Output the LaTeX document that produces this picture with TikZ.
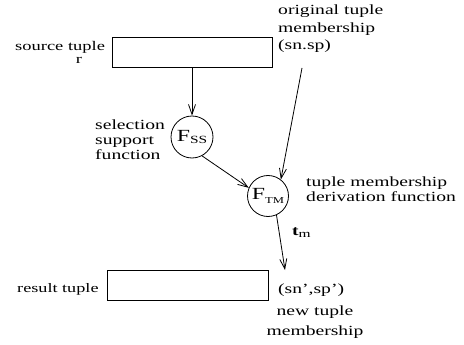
\documentclass[tikz,border=0pt]{standalone}
\usepackage{fontspec}
\setmainfont[FakeStretch=1.4]{Liberation Serif}
\usetikzlibrary{arrows.meta}
\begin{document}
\begin{tikzpicture}[x=1pt,y=-1pt,
  box/.style={draw,line width=0.9pt,inner sep=0pt},
  fcircle/.style={draw,circle,line width=0.8pt,inner sep=0pt,minimum size=42pt},
  conn/.style={line width=0.8pt,-{Straight Barb[length=10pt,width=7pt,line width=0.8pt]}},
  lbl/.style={inner sep=0pt,font=\fontsize{14}{15}\selectfont},
  smalllbl/.style={inner sep=0pt,font=\fontsize{13}{14}\selectfont}
]
\useasboundingbox (0,0) rectangle (464,345);
% boxes
\node[box,minimum width=160pt,minimum height=30pt] (src) at (192,52) {};
\node[box,minimum width=161pt,minimum height=30pt] (res) at (187.5,285) {};
% circles
\node[fcircle] (Fss) at (192,137) {\fontsize{17}{17}\selectfont F\raisebox{-0.35ex}{\fontsize{11}{11}\selectfont SS}};
\node[fcircle,minimum size=41pt] (Ftm) at (268,196) {\fontsize{17}{17}\selectfont F\raisebox{-0.45ex}{\fontsize{9}{9}\selectfont TM}};
% labels (multi-line nodes: base = last line)
\node[smalllbl,anchor=base west,font=\fontsize{13.2}{14}\selectfont] (srclbl) at (15,51) {source tuple};
\node[smalllbl,anchor=base,font=\fontsize{13.2}{14}\selectfont] (rlbl) at (79,64) {r};
\node[lbl,anchor=base west,align=left,font=\fontsize{14}{17.5}\selectfont] (orig) at (278,50) {original tuple\\membership\\(sn.sp)};
\node[lbl,anchor=base west,align=left] (sel) at (95,160) {selection\\support\\function};
\node[lbl,anchor=base west,align=left] (tmd) at (306,201) {tuple membership\\derivation function};
\node[lbl,anchor=base west] (tm) at (292,235) {\textbf{t}\raisebox{-0.35ex}{\fontsize{11}{11}\selectfont m}};
\node[smalllbl,anchor=base west] (reslbl) at (17,292) {result tuple};
\node[lbl,anchor=base west] (snsp) at (278,293) {(sn',sp')};
\node[lbl,anchor=base,align=center,font=\fontsize{14}{20}\selectfont] (newm) at (315,335) {new tuple\\membership};
% connectors
\coordinate (origpt) at (302,68);
\coordinate (tmend) at (285,270);
\draw[conn] (src.south) -- (Fss.north);
\draw[conn] (origpt) -- (Ftm.52);
\draw[conn] (Fss.-62) -- (Ftm.157);
\draw[conn] (Ftm.-66) -- (tmend);
\end{tikzpicture}
\end{document}
